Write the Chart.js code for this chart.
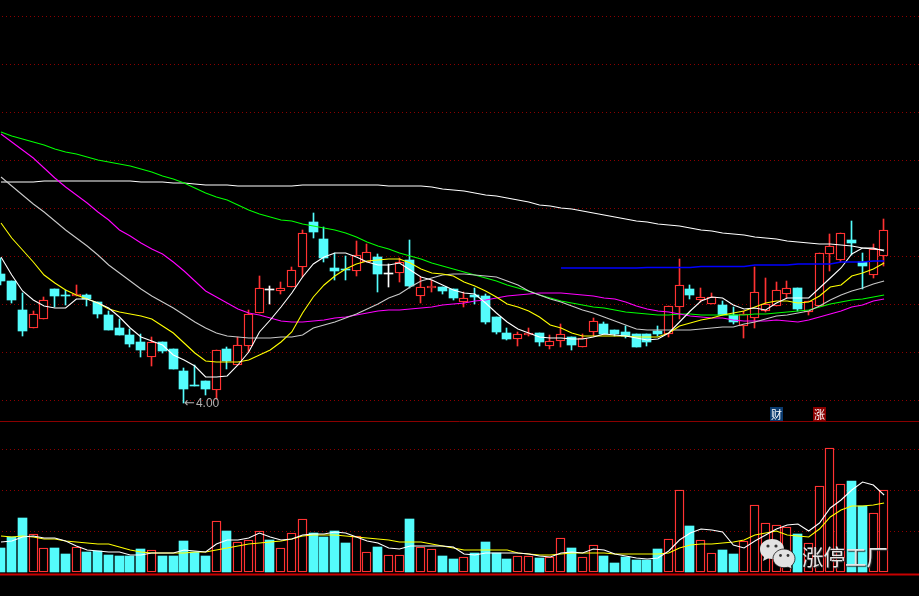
<!DOCTYPE html>
<html>
<head>
<meta charset="utf-8">
<style>
html,body{margin:0;padding:0;background:#000;width:919px;height:596px;overflow:hidden}
#wrap{position:relative;width:919px;height:596px}
canvas{position:absolute;left:0;top:0}
.t{position:absolute;white-space:nowrap}
#low{left:184px;top:397px;font:12px/12px "Liberation Sans",sans-serif;color:#b0b0b0}
#low b{font:normal 13px/12px "DejaVu Sans",sans-serif;margin-right:1px}
.tag{top:407px;width:13px;height:14px;font:11px/14px "Noto Sans CJK SC",sans-serif;color:#fff;text-align:center}
#cai{left:770px;background:#0a3a6e}
#zhang{left:813px;background:#8a0000}
#wm{left:802px;top:542px;font:21.5px/27px "Noto Sans CJK SC",sans-serif;color:#e6e6e6;text-shadow:1px 1px 1px #333;letter-spacing:0}
#bub{position:absolute;left:756px;top:535px}
</style>
</head>
<body>
<div id="wrap">
<canvas id="c" width="919" height="596"></canvas>
<svg id="bub" width="44" height="38" viewBox="0 0 44 38">
<path d="M16 4c7 0 12 4.500 12 10s-5 10-12 10c-1.500 0-3-.2-4-.5L7 26l1-4c-3-2-4-5-4-8C4 8.500 9 4 16 4z" fill="#e2e2e2"/>
<circle cx="12" cy="11" r="1.600" fill="#333"/><circle cx="20" cy="11" r="1.600" fill="#333"/>
<path d="M28 14c6 0 11 4.300 11 9.500 0 3-1.500 5.500-3.500 7.300L36 34l-4-1.800c-1.200.3-2.600.5-4 .5-6 0-11-4.200-11-9.200S22 14 28 14z" fill="#e2e2e2" stroke="#111" stroke-width=".8"/>
<circle cx="24.500" cy="20.500" r="1.400" fill="#333"/><circle cx="32" cy="20.500" r="1.400" fill="#333"/>
</svg>
<span class="t" id="low"><b>←</b>4.00</span>
<span class="t tag" id="cai">财</span>
<span class="t tag" id="zhang">涨</span>
<span class="t" id="wm">涨停工厂</span>
</div>
<script src="https://cdn.jsdelivr.net/npm/chart.js@4"></script>
<script>
const opens=[5.29,5.22,4.93,4.75,4.84,5.14,5.08,5.07,5.08,5.01,4.88,4.75,4.68,4.61,4.46,4.61,4.54,4.32,4.18,4.22,4.13,4.54,4.38,4.57,4.90,5.13,5.12,5.16,5.36,5.81,5.64,5.35,5.34,5.32,5.41,5.46,5.29,5.30,5.43,5.07,5.15,5.16,5.14,5.01,5.08,5.07,4.86,4.70,4.64,4.68,4.70,4.57,4.62,4.66,4.56,4.71,4.79,4.73,4.71,4.69,4.69,4.72,4.69,4.96,5.14,5.03,4.99,4.98,4.88,4.77,4.85,4.92,4.97,5.09,5.15,4.91,4.97,5.49,5.43,5.63,5.41,5.28,5.47];
const closes=[5.22,5.03,4.72,4.89,5.03,5.07,5.07,5.09,5.04,4.89,4.73,4.68,4.59,4.53,4.61,4.52,4.34,4.14,4.17,4.14,4.53,4.42,4.58,4.89,5.15,5.13,5.15,5.33,5.70,5.71,5.45,5.32,5.33,5.48,5.51,5.29,5.29,5.41,5.17,5.16,5.17,5.12,5.05,5.05,5.06,4.81,4.71,4.64,4.69,4.70,4.61,4.62,4.69,4.58,4.65,4.82,4.69,4.69,4.67,4.56,4.61,4.69,4.97,5.18,5.08,5.06,5.06,4.88,4.81,4.89,5.11,4.99,5.13,5.15,4.94,5.02,5.50,5.57,5.70,5.60,5.37,5.54,5.73];
const highs=[5.45,5.22,5.10,4.92,5.06,5.14,5.13,5.18,5.09,5.01,4.92,4.84,4.74,4.69,4.66,4.61,4.54,4.35,4.38,4.22,4.53,4.56,4.66,4.93,5.27,5.17,5.21,5.36,5.73,5.90,5.76,5.50,5.47,5.62,5.59,5.49,5.39,5.45,5.63,5.26,5.23,5.16,5.14,5.11,5.15,5.09,4.86,4.75,4.71,4.75,4.70,4.68,4.79,4.66,4.69,4.85,4.81,4.73,4.77,4.69,4.69,4.77,4.97,5.44,5.18,5.15,5.10,5.02,4.96,4.92,5.36,5.25,5.21,5.22,5.15,5.02,5.50,5.69,5.70,5.82,5.50,5.59,5.84];
const lows=[5.18,5.00,4.67,4.75,4.84,4.96,4.98,5.07,4.97,4.85,4.73,4.68,4.56,4.46,4.37,4.50,4.34,4.00,4.17,4.08,4.04,4.34,4.38,4.51,4.90,4.99,5.09,5.16,5.26,5.65,5.41,5.23,5.23,5.27,5.41,5.11,5.16,5.21,5.15,5.00,5.11,5.09,5.03,4.96,4.99,4.79,4.69,4.63,4.57,4.67,4.57,4.54,4.56,4.53,4.56,4.67,4.69,4.67,4.65,4.56,4.57,4.67,4.66,4.84,5.04,5.01,4.99,4.88,4.79,4.65,4.75,4.91,4.97,5.05,4.92,4.88,4.97,5.32,5.41,5.48,5.14,5.25,5.37];
const ma5=[5.46,5.28,5.12,5.03,4.97,4.95,4.95,5.04,5.04,5.00,4.95,4.86,4.75,4.66,4.62,4.58,4.48,4.43,4.37,4.26,4.26,4.27,4.38,4.51,4.71,4.83,4.96,5.10,5.26,5.39,5.46,5.50,5.50,5.46,5.41,5.38,5.38,5.40,5.33,5.26,5.23,5.18,5.13,5.10,5.09,5.00,4.90,4.81,4.74,4.70,4.66,4.65,4.65,4.64,4.64,4.66,4.69,4.68,4.67,4.65,4.63,4.64,4.70,4.81,4.92,5.02,5.06,5.05,4.98,4.94,4.95,4.93,5.00,5.05,5.05,5.05,5.15,5.25,5.35,5.49,5.55,5.55,5.52];
const ma10=[5.80,5.65,5.53,5.41,5.28,5.20,5.13,5.08,5.04,5.00,4.94,4.91,4.89,4.87,4.84,4.77,4.70,4.60,4.50,4.42,4.41,4.41,4.41,4.43,4.48,4.53,4.61,4.71,4.90,5.06,5.18,5.27,5.34,5.39,5.42,5.43,5.44,5.44,5.40,5.34,5.30,5.29,5.27,5.21,5.17,5.12,5.06,4.99,4.96,4.92,4.86,4.78,4.75,4.70,4.67,4.67,4.67,4.67,4.67,4.66,4.66,4.66,4.70,4.77,4.80,4.83,4.85,4.88,4.90,4.92,4.96,5.00,5.02,5.02,5.00,5.01,5.07,5.16,5.18,5.27,5.30,5.34,5.40];
const ma20=[6.26,6.17,6.08,5.99,5.91,5.82,5.73,5.65,5.57,5.48,5.38,5.30,5.22,5.14,5.07,5.01,4.95,4.88,4.81,4.75,4.70,4.67,4.66,4.65,4.65,4.65,4.66,4.66,4.68,4.75,4.78,4.81,4.85,4.89,4.94,4.99,5.05,5.09,5.16,5.22,5.25,5.28,5.29,5.29,5.28,5.27,5.26,5.22,5.18,5.12,5.08,5.04,5.01,4.97,4.93,4.90,4.86,4.82,4.78,4.74,4.73,4.73,4.73,4.73,4.73,4.74,4.75,4.76,4.76,4.79,4.81,4.84,4.87,4.88,4.90,4.92,4.97,5.03,5.08,5.12,5.15,5.19,5.22];
const ma60=[6.69,6.61,6.53,6.45,6.35,6.25,6.16,6.08,6.00,5.91,5.83,5.73,5.67,5.60,5.54,5.49,5.41,5.32,5.22,5.12,5.06,5.00,4.94,4.90,4.88,4.85,4.82,4.81,4.81,4.82,4.83,4.85,4.86,4.88,4.90,4.92,4.93,4.93,4.94,4.95,4.96,4.98,4.99,5.00,5.02,5.03,5.05,5.07,5.08,5.09,5.10,5.10,5.10,5.09,5.08,5.07,5.05,5.04,5.01,4.97,4.94,4.92,4.91,4.89,4.87,4.86,4.85,4.85,4.83,4.82,4.82,4.82,4.83,4.82,4.81,4.83,4.86,4.89,4.92,4.96,4.98,5.02,5.04];
const ma120=[6.71,6.67,6.64,6.61,6.58,6.54,6.51,6.49,6.46,6.43,6.41,6.39,6.37,6.34,6.31,6.27,6.24,6.20,6.15,6.10,6.06,6.03,5.98,5.93,5.89,5.86,5.83,5.82,5.79,5.77,5.75,5.73,5.70,5.66,5.61,5.57,5.54,5.50,5.47,5.44,5.40,5.37,5.34,5.31,5.28,5.25,5.22,5.18,5.15,5.12,5.08,5.05,5.02,5.00,4.98,4.96,4.95,4.93,4.91,4.90,4.89,4.88,4.88,4.89,4.89,4.88,4.88,4.88,4.88,4.88,4.89,4.89,4.90,4.91,4.92,4.93,4.96,4.99,5.01,5.03,5.04,5.06,5.08];
const ma250=[6.21,6.21,6.21,6.21,6.22,6.22,6.22,6.22,6.22,6.22,6.22,6.22,6.22,6.21,6.21,6.21,6.20,6.20,6.19,6.18,6.18,6.18,6.17,6.17,6.17,6.17,6.17,6.17,6.18,6.18,6.18,6.18,6.18,6.18,6.18,6.18,6.17,6.17,6.17,6.17,6.16,6.14,6.13,6.12,6.10,6.08,6.07,6.05,6.03,6.01,5.98,5.97,5.95,5.94,5.92,5.90,5.88,5.86,5.84,5.82,5.81,5.79,5.78,5.77,5.75,5.73,5.72,5.70,5.69,5.68,5.66,5.65,5.64,5.62,5.61,5.60,5.59,5.59,5.58,5.57,5.55,5.54,5.53];
const blueStart=52;
const blueLine=[5.35,5.35,5.35,5.35,5.35,5.35,5.35,5.35,5.355,5.355,5.355,5.355,5.355,5.365,5.365,5.365,5.365,5.365,5.38,5.38,5.38,5.38,5.39,5.39,5.39,5.39,5.41,5.41,5.41,5.42,5.42];
const volumes=[24,35,54,38,24,24,18,25,20,21,17,16,16,23,22,16,16,31,20,16,51,41,30,32,41,32,24,39,53,39,35,41,29,36,20,25,17,17,53,25,23,16,13,15,19,30,19,13,16,16,14,15,34,24,15,27,16,9,15,12,12,23,33,82,46,32,19,22,18,31,67,49,47,45,38,29,86,124,88,91,66,59,82];
const volMa5=[30,31,35,36,34,34,31,26,22,21,20,20,17,17,19,19,19,22,21,20,28,32,32,34,39,35,32,33,37,38,38,40,39,35,31,29,24,23,26,26,26,26,25,18,17,19,19,19,19,18,16,15,19,20,19,23,22,18,16,14,13,14,21,32,39,43,42,40,27,24,31,37,43,47,48,41,49,64,72,82,90,87,77];
const volMa10=[36,35,36,35,33,33,31,30,29,28,28,25,22,20,19,19,19,19,20,20,22,24,26,28,29,30,31,33,36,37,37,37,36,35,34,33,32,30,30,30,28,26,24,22,22,22,22,22,19,18,17,17,18,19,19,19,19,18,18,18,18,18,19,24,27,28,28,29,30,32,37,39,41,37,36,35,43,55,62,66,66,67,69];
const priceGrid=[7.86,7.38,6.90,6.42,5.94,5.46,4.98,4.50,4.02];
const volGrid=[123,82,41];
const panelRule=150.5;
const baseRule=-2.5;

const RED='#ff3232',CYAN='#54fcfc',WHITE='#ffffff';
const idx=opens.map((_,i)=>i);
const candleColor=idx.map(i=>closes[i]>opens[i]?RED:closes[i]<opens[i]?CYAN:WHITE);
const isUp=i=>closes[i]>opens[i];
const volColor=idx.map(i=>(closes[i]>opens[i]||(closes[i]===opens[i]&&i>0&&closes[i]>=closes[i-1]))?RED:CYAN);
const XMIN=-0.093,XMAX=85.24;

const line=(arr,color,order,axis,w,start)=>({type:'line',data:arr.map((v,i)=>({x:i+(start||0),y:v})),borderColor:color,borderWidth:w||1.1,pointRadius:0,tension:0,fill:false,order:order,yAxisID:axis||'y'});
const rule=(v,color,w)=>({type:'line',data:[{x:XMIN,y:v},{x:XMAX,y:v}],borderColor:color,borderWidth:w,pointRadius:0,order:30,yAxisID:'yV'});

const grid={color:'#8c0000',lineWidth:1,drawTicks:false};
const border={display:false,dash:[1,3],dashOffset:2};

// Snap the library-computed bar centres to whole pixels so bars stay crisp like the original terminal.
const snapBars={id:'snapBars',afterDatasetsUpdate(chart){
  chart.data.datasets.forEach((d,i)=>{
    if(d.type!=='bar')return;
    chart.getDatasetMeta(i).data.forEach(el=>{el.x=Math.floor(el.x-4.3)+4.5;});
  });
}};

new Chart(document.getElementById('c'),{
 plugins:[snapBars],
 data:{datasets:[
  rule(panelRule,'#8a0000',1),
  rule(baseRule,'#c80000',2),
  {type:'bar',label:'wick',data:idx.map(i=>({x:i,y:[lows[i],highs[i]]})),backgroundColor:candleColor,barThickness:1,grouped:false,order:12,yAxisID:'y'},
  {type:'bar',label:'body',data:idx.map(i=>({x:i,y:opens[i]===closes[i]?[closes[i],closes[i]+0.01]:[Math.min(opens[i],closes[i]),Math.max(opens[i],closes[i])]})),
   backgroundColor:idx.map(i=>isUp(i)?'#000000':candleColor[i]),borderColor:idx.map(i=>isUp(i)?RED:candleColor[i]),borderWidth:idx.map(i=>isUp(i)?1.4:0),borderSkipped:false,barThickness:9,grouped:false,order:11,yAxisID:'y'},
  {type:'bar',label:'volume',data:idx.map(i=>({x:i,y:volumes[i]})),backgroundColor:idx.map(i=>volColor[i]===RED?'#000000':CYAN),borderColor:volColor,borderWidth:idx.map(i=>volColor[i]===RED?1.4:0),borderSkipped:false,barThickness:9,grouped:false,order:11,yAxisID:'yV'},
  line(ma250,WHITE,7),
  line(ma120,'#00ff00',6),
  line(ma60,'#ff00ff',5),
  line(ma20,'#c8c8c8',4),
  line(ma10,'#ffff00',3),
  line(ma5,WHITE,2),
  line(blueLine,'#0000ff',1,'y',1.5,blueStart),
  line(volMa10,'#ffff00',2,'yV'),
  line(volMa5,WHITE,1,'yV')
 ]},
 options:{
  responsive:false,animation:false,devicePixelRatio:1,
  layout:{padding:0},
  plugins:{legend:{display:false},tooltip:{enabled:false}},
  events:[],
  scales:{
   x:{type:'linear',min:XMIN,max:XMAX,display:false,offset:false},
   y:{type:'linear',min:2.07,max:8.03,position:'left',ticks:{display:false},grid:grid,border:border,
      afterBuildTicks:s=>{s.ticks=priceGrid.map(v=>({value:v}))},afterFit:s=>{s.width=0}},
   yV:{type:'linear',min:-24,max:572,position:'left',ticks:{display:false},grid:grid,border:border,
      afterBuildTicks:s=>{s.ticks=volGrid.map(v=>({value:v}))},afterFit:s=>{s.width=0}}
  }
 }
});
</script>
</body>
</html>
